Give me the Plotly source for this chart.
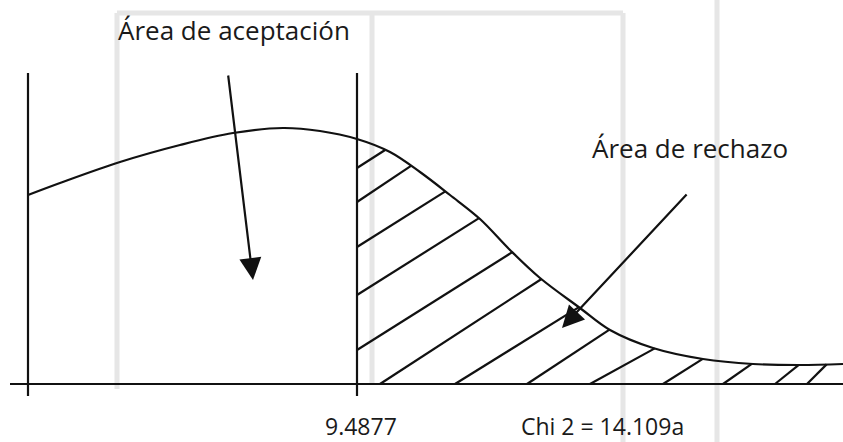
import numpy as np
import plotly.graph_objects as go

# ---- data (horizontal position, height above the axis) ----
curve_x = [28, 60, 120, 180, 233, 283, 320, 357, 390, 420, 450, 480, 510, 540, 580, 610, 653, 703, 753, 800, 843]
curve_y = [189, 201, 222, 239, 251, 256, 253, 245, 232, 212, 189, 165, 134, 106, 76, 54, 36, 25, 20, 19, 20]

left_x = 28
critical_x = 357
line_top = 311

# hatch lines starting on the critical-value line (heights) and on the axis (positions)
hatch_wall_y = [216, 182, 137, 89, 34]
hatch_wall_slope = [0.64, 0.67, 0.63, 0.63, 0.63]
hatch_base_x = [380, 455, 527, 590, 663, 723, 775, 807]
hatch_base_slope = [0.65, 0.62, 0.66, 0.55, 0.63, 0.70, 0.80, 1.00]

critical_label = "9.4877"
chi_label = "Chi 2 = 14.109a"
accept_label = "Área de aceptación"
reject_label = "Área de rechazo"

INK = "#111111"
LW = 2.2


def hatch_end(x0, y0, s):
    xs = np.linspace(x0, 843, 4000)
    diff = y0 + s * (xs - x0) - np.interp(xs, curve_x, curve_y)
    idx = np.argmax(diff >= 0)
    return xs[idx], y0 + s * (xs[idx] - x0)


hx, hy = [], []
for y0, s in zip(hatch_wall_y, hatch_wall_slope):
    x1, y1 = hatch_end(critical_x, y0, s)
    hx += [critical_x, x1, None]
    hy += [y0, y1, None]
for x0, s in zip(hatch_base_x, hatch_base_slope):
    x1, y1 = hatch_end(x0, 0, s)
    hx += [x0, x1, None]
    hy += [0, y1, None]

fig = go.Figure()

# faint watermark frame lines
wm = "#e6e6e6"
for (x0, y0, x1, y1) in [(117, 371, 623, 371), (117, 371, 117, -5), (623, 371, 623, -58),
                         (717, 384, 717, -58), (372, 371, 372, 0)]:
    fig.add_shape(type="line", x0=x0, y0=y0, x1=x1, y1=y1, layer="below",
                  line=dict(color=wm, width=5))

fig.add_trace(go.Scatter(x=hx, y=hy, mode="lines", line=dict(color=INK, width=LW),
                         hoverinfo="skip", showlegend=False))
fig.add_trace(go.Scatter(x=curve_x, y=curve_y, mode="lines", line=dict(color=INK, width=LW, shape="spline", smoothing=1.0),
                         hoverinfo="skip", showlegend=False))
# axis line
fig.add_trace(go.Scatter(x=[10, 843], y=[0, 0], mode="lines", line=dict(color=INK, width=LW),
                         hoverinfo="skip", showlegend=False))
# vertical lines
for vx in [left_x, critical_x]:
    fig.add_trace(go.Scatter(x=[vx, vx], y=[-12, line_top], mode="lines", line=dict(color=INK, width=LW),
                             hoverinfo="skip", showlegend=False))

font_big = dict(family="Open Sans, sans-serif", size=26, color="#1a1a1a")
font_num = dict(family="Open Sans, sans-serif", size=23, color="#1a1a1a")
fig.add_annotation(x=234, y=354, text=accept_label, showarrow=False, font=font_big, xanchor="center", yanchor="middle")
fig.add_annotation(x=690, y=236, text=reject_label, showarrow=False, font=font_big, xanchor="center", yanchor="middle")
fig.add_annotation(x=361, y=-42, text=critical_label, showarrow=False, font=font_num, xanchor="center", yanchor="middle", borderpad=0)
fig.add_annotation(x=602, y=-42, text=chi_label, showarrow=False, font=font_num, xanchor="center", yanchor="middle", borderpad=0)

# arrows
fig.add_annotation(x=253, y=104, ax=228, ay=310, axref="x", ayref="y", xref="x", yref="y",
                   text="", showarrow=True, arrowhead=2, arrowsize=2, arrowwidth=2.2, arrowcolor=INK)
fig.add_annotation(x=562, y=56, ax=688, ay=191, axref="x", ayref="y", xref="x", yref="y",
                   text="", showarrow=True, arrowhead=2, arrowsize=2, arrowwidth=2.2, arrowcolor=INK)

fig.update_layout(
    width=843, height=442,
    margin=dict(l=0, r=0, t=0, b=0),
    paper_bgcolor="white", plot_bgcolor="white",
    xaxis=dict(range=[0, 843], visible=False, fixedrange=True),
    yaxis=dict(range=[-58, 384], visible=False, fixedrange=True),
    showlegend=False,
)

fig.write_html("out.html", config={"displayModeBar": False},
               post_script="document.body.style.margin='0';document.body.style.overflow='hidden';")
